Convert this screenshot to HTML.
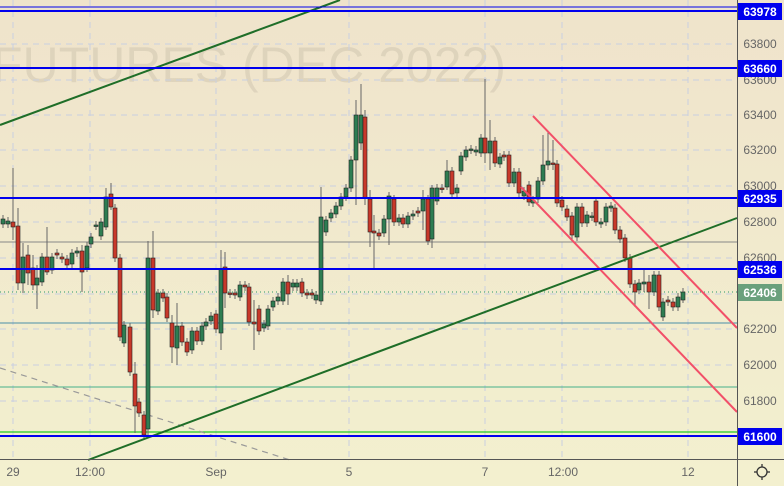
<!DOCTYPE html>
<html><head><meta charset="utf-8"><style>
html,body{margin:0;padding:0;width:784px;height:486px;overflow:hidden;background:#f1e9cf}
svg{display:block;font-family:"Liberation Sans",sans-serif}
</style></head><body>
<svg id="s" width="784" height="486" xmlns="http://www.w3.org/2000/svg">
<defs><linearGradient id="bg" x1="0" y1="0" x2="0" y2="1"><stop offset="0" stop-color="#efe3cb"/><stop offset="1" stop-color="#f3f0cf"/></linearGradient></defs>
<rect width="784" height="486" fill="url(#bg)"/>
<text x="-8" y="82" font-size="50" fill="#000" fill-opacity="0.07">FUTURES (DEC 2022)</text>
<g stroke="#c9cfe0" stroke-dasharray="6,5" stroke-width="1">
<line x1="13" y1="0" x2="13" y2="459"/><line x1="90" y1="0" x2="90" y2="459"/><line x1="216" y1="0" x2="216" y2="459"/><line x1="349" y1="0" x2="349" y2="459"/><line x1="485" y1="0" x2="485" y2="459"/><line x1="562" y1="0" x2="562" y2="459"/><line x1="688" y1="0" x2="688" y2="459"/>
<line x1="0" y1="44" x2="737" y2="44"/><line x1="0" y1="80" x2="737" y2="80"/><line x1="0" y1="115" x2="737" y2="115"/><line x1="0" y1="150" x2="737" y2="150"/><line x1="0" y1="186" x2="737" y2="186"/><line x1="0" y1="222" x2="737" y2="222"/><line x1="0" y1="258" x2="737" y2="258"/><line x1="0" y1="294" x2="737" y2="294"/><line x1="0" y1="329" x2="737" y2="329"/><line x1="0" y1="365" x2="737" y2="365"/><line x1="0" y1="401" x2="737" y2="401"/>
</g>
<line x1="0" y1="242" x2="737" y2="242" stroke="#888" stroke-width="1"/>
<line x1="0" y1="323" x2="737" y2="323" stroke="#4a8fa8" stroke-width="1"/>
<line x1="0" y1="387" x2="737" y2="387" stroke="#45b08a" stroke-width="1"/>
<line x1="0" y1="292" x2="737" y2="292" stroke="#2a9a6a" stroke-width="1" stroke-dasharray="1,3"/>
<line x1="0" y1="432" x2="737" y2="432" stroke="#22cc22" stroke-width="1.2"/>
<line x1="0" y1="368" x2="290" y2="460" stroke="#999" stroke-width="1.2" stroke-dasharray="6,5"/>
<g id="c"></g>
<g fill="none">
<line x1="0" y1="125" x2="340" y2="0" stroke="#1f6e28" stroke-width="2"/>
<line x1="88" y1="460" x2="737" y2="218" stroke="#1f6e28" stroke-width="2"/>
<line x1="533" y1="116" x2="737" y2="328" stroke="#f25068" stroke-width="2"/>
<line x1="521" y1="187" x2="737" y2="412" stroke="#f25068" stroke-width="2"/>
<line x1="0" y1="7" x2="737" y2="7" stroke="#0000ee" stroke-width="1"/>
<line x1="0" y1="11" x2="737" y2="11" stroke="#0000ee" stroke-width="2"/>
<line x1="0" y1="68" x2="737" y2="68" stroke="#0000ee" stroke-width="2"/>
<line x1="0" y1="198" x2="737" y2="198" stroke="#0000ee" stroke-width="2"/>
<line x1="0" y1="269" x2="737" y2="269" stroke="#0000ee" stroke-width="2"/>
<line x1="0" y1="436" x2="737" y2="436" stroke="#0000ee" stroke-width="2"/>
</g>
<line x1="0" y1="459.5" x2="784" y2="459.5" stroke="#555"/>
<line x1="737.5" y1="0" x2="737.5" y2="486" stroke="#555"/>
<g font-size="12" fill="#666" text-anchor="middle">
<text x="760" y="48">63800</text><text x="760" y="84">63600</text><text x="760" y="119">63400</text><text x="760" y="154">63200</text><text x="760" y="190">63000</text><text x="760" y="226">62800</text><text x="760" y="262">62600</text><text x="760" y="333">62200</text><text x="760" y="369">62000</text><text x="760" y="405">61800</text>
<text x="13" y="476">29</text><text x="90" y="476">12:00</text><text x="216" y="476">Sep</text><text x="349" y="476">5</text><text x="485" y="476">7</text><text x="563" y="476">12:00</text><text x="688" y="476">12</text>
</g>
<g font-size="12" font-weight="bold" fill="#fff" text-anchor="middle">
<rect x="738" y="3" width="44" height="17" fill="#0000ee"/><text x="760" y="16">63978</text>
<rect x="738" y="60" width="44" height="17" fill="#0000ee"/><text x="760" y="73">63660</text>
<rect x="738" y="190" width="44" height="17" fill="#0000ee"/><text x="760" y="203">62935</text>
<rect x="738" y="261" width="44" height="17" fill="#0000ee"/><text x="760" y="274">62536</text>
<rect x="738" y="284" width="44" height="17" fill="#6aa07c"/><text x="760" y="297">62406</text>
<rect x="738" y="428" width="44" height="17" fill="#0000ee"/><text x="760" y="441">61600</text>
</g>
<g transform="translate(762,472)" stroke="#333" fill="none" stroke-width="1.3"><circle r="5"/><line x1="-8" y1="0" x2="-5" y2="0"/><line x1="5" y1="0" x2="8" y2="0"/><line x1="0" y1="-8" x2="0" y2="-5"/><line x1="0" y1="5" x2="0" y2="8"/></g>
</svg>
<script>
var d=[[3,219,224,'g'],[8,221,224,'g'],[13,222,227,'r',168,240],[18,226,283,'r',208,290],[23,257,283,'g',243,293],[28,255,273,'r',245,285],[33,268,285,'r',255,290],[37,278,285,'g',265,309],[42,257,282,'g'],[47,257,272,'r',227,275],[52,257,270,'g'],[57,253,255,'r'],[62,257,259,'r'],[67,259,265,'r'],[72,253,264,'g'],[77,251,253,'g'],[82,251,272,'r',245,292],[87,246,268,'g'],[91,237,244,'g'],[96,225,226,'g'],[101,222,236,'g'],[106,197,227,'g',188,230],[111,194,207,'r',183,210],[115,208,258,'r'],[120,258,337,'r'],[124,325,343,'g'],[130,327,372,'r'],[135,374,406,'r',362,433],[139,402,413,'r'],[144,415,435,'r'],[148,258,429,'g',241,437],[153,258,310,'r',231,318],[158,293,311,'g'],[163,293,298,'r'],[167,297,318,'r'],[172,323,347,'r',315,363],[177,326,348,'g',303,365],[182,326,342,'r'],[187,342,352,'r'],[192,331,350,'g'],[197,331,341,'r'],[202,326,341,'g'],[206,322,326,'g'],[211,316,321,'g'],[216,314,329,'r'],[221,269,333,'g',250,350],[225,267,293,'r',252,308],[230,293,294,'r'],[235,293,295,'r'],[240,285,297,'g'],[245,285,287,'r'],[249,287,322,'r'],[254,322,324,'r',300,350],[259,309,331,'r'],[264,324,328,'g'],[268,309,326,'g'],[273,301,307,'g'],[278,297,301,'g'],[283,282,301,'g'],[288,282,294,'r',275,305],[293,283,287,'g'],[297,283,287,'g'],[302,282,293,'r'],[307,293,295,'r'],[312,293,295,'r'],[316,295,300,'g'],[321,217,301,'g',187,305],[326,220,232,'g'],[331,213,218,'g'],[336,206,214,'g'],[341,197,206,'g'],[346,188,197,'g'],[351,160,188,'g'],[356,115,160,'g',100,205],[361,115,143,'g',84,150],[365,117,198,'r',110,205],[370,199,232,'r',190,247],[374,231,233,'r',215,268],[379,233,236,'r'],[384,219,233,'g'],[389,196,219,'g',192,245],[394,199,222,'r'],[399,218,222,'g'],[403,218,224,'r'],[408,216,224,'g'],[413,214,216,'g'],[418,211,213,'r'],[423,199,211,'g',190,230],[428,199,241,'r',195,245],[432,188,239,'g',185,248],[437,188,201,'g'],[442,188,189,'r'],[447,171,187,'g',160,190],[452,171,194,'r'],[457,188,193,'g'],[461,156,171,'g'],[466,150,157,'g'],[471,149,150,'g'],[476,150,152,'g'],[481,138,153,'g'],[485,138,153,'r',79,163],[490,141,153,'g',120,170],[495,141,163,'r'],[500,157,164,'g'],[504,155,157,'r'],[509,155,183,'r'],[514,172,183,'g'],[519,172,193,'r'],[524,191,196,'g'],[529,185,202,'r'],[533,200,203,'g'],[538,181,199,'g'],[543,165,181,'g',135,185],[548,161,165,'g',132,170],[553,163,164,'r',140,170],[557,164,203,'r'],[562,200,207,'r'],[567,209,217,'r'],[572,216,235,'r'],[577,207,237,'g'],[582,207,223,'r'],[587,215,223,'g'],[592,216,217,'g'],[596,201,222,'r'],[601,222,224,'g'],[606,207,222,'g'],[611,206,208,'g'],[615,208,230,'r'],[620,230,239,'r'],[625,238,258,'r'],[630,258,284,'r'],[635,284,292,'r',280,307],[639,283,290,'g'],[644,282,284,'g',268,292],[649,282,292,'r',275,309],[654,275,292,'g'],[659,275,307,'r'],[663,302,317,'g'],[668,300,302,'r'],[673,302,307,'r'],[678,297,307,'g'],[683,292,300,'g',288,303]];
var h='';d.forEach(function(c){var t=c[1],b=c[2],wt=c.length>4?c[4]:t-4,wb=c.length>5?c[5]:b+4;h+='<line x1="'+c[0]+'" y1="'+wt+'" x2="'+c[0]+'" y2="'+wb+'" stroke="#666" stroke-width="1"/>';h+='<rect x="'+(c[0]-2)+'" y="'+t+'" width="4" height="'+Math.max(1.5,b-t)+'" fill="'+(c[3]=='g'?'#2e7d52':'#c8382a')+'" stroke="#222" stroke-width="0.6"/>';});
document.getElementById('c').innerHTML=h;
</script>
</body></html>
